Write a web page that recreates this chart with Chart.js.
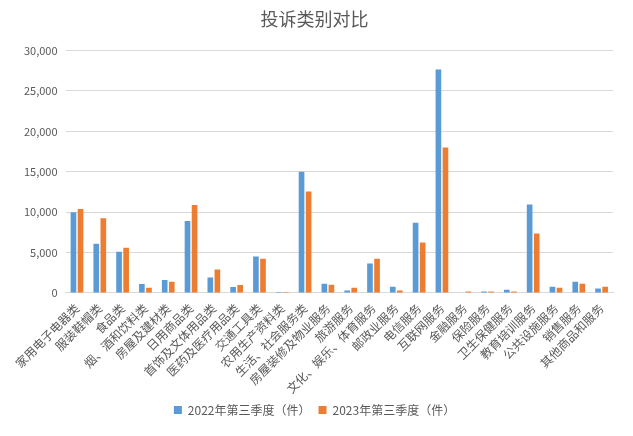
<!DOCTYPE html>
<html>
<head>
<meta charset="utf-8">
<script src="https://cdn.jsdelivr.net/npm/chart.js@4"></script>
<style>
  html, body { margin: 0; padding: 0; background: #fff; }
  #wrap { width: 633px; height: 436px; }
</style>
</head>
<body>
<div id="wrap"><canvas id="chart"></canvas></div>
<script>
// 投诉类别
const categories = [
  '家用电子电器类', '服装鞋帽类', '食品类', '烟、酒和饮料类', '房屋及建材类', '日用商品类',
  '首饰及文体用品类', '医药及医疗用品类', '交通工具类', '农用生产资料类', '生活、社会服务类',
  '房屋装修及物业服务', '旅游服务', '文化、娱乐、体育服务', '邮政业服务', '电信服务',
  '互联网服务', '金融服务', '保险服务', '卫生保健服务', '教育培训服务', '公共设施服务',
  '销售服务', '其他商品和服务'
];
const seriesNames = ['2022年第三季度（件）', '2023年第三季度（件）'];
const values2022 = [10000, 6100, 5100, 1100, 1600, 8900, 1900, 750, 4500, 130, 15000,
  1150, 290, 3650, 780, 8700, 27650, 60, 170, 410, 10950, 780, 1400, 540];
const values2023 = [10400, 9250, 5600, 650, 1400, 10900, 2900, 1000, 4250, 130, 12550,
  1030, 660, 4250, 290, 6250, 18000, 170, 170, 170, 7350, 660, 1150, 780];
const yTicks = [0, 5000, 10000, 15000, 20000, 25000, 30000];

const FONT = '"Noto Sans CJK SC", "Noto Sans", sans-serif';
const TEXT = '#595959';

new Chart(document.getElementById('chart').getContext('2d'), {
  type: 'bar',
  data: {
    labels: categories,
    datasets: [
      { label: seriesNames[0], data: values2022, backgroundColor: '#5B9BD5',
        barPercentage: 0.8, categoryPercentage: 0.62 },
      { label: seriesNames[1], data: values2023, backgroundColor: '#ED7D31',
        barPercentage: 0.8, categoryPercentage: 0.62 }
    ]
  },
  options: {
    responsive: true,
    maintainAspectRatio: false,
    animation: false,
    layout: { padding: { left: 16, right: 20, top: 4, bottom: 10 } },
    plugins: {
      title: {
        display: true,
        text: '投诉类别对比',
        color: TEXT,
        font: { family: FONT, size: 18, weight: 'normal' },
        padding: { top: 4, bottom: 21 }
      },
      legend: {
        position: 'bottom',
        labels: {
          color: TEXT,
          font: { family: FONT, size: 12 },
          boxWidth: 8, boxHeight: 8, padding: 8
        }
      },
      tooltip: { enabled: false }
    },
    scales: {
      x: {
        grid: { display: false },
        border: { color: '#d9d9d9' },
        ticks: {
          color: TEXT,
          font: { family: FONT, size: 12 },
          autoSkip: false,
          maxRotation: 45,
          minRotation: 45,
          padding: 0
        }
      },
      y: {
        min: 0,
        max: yTicks[yTicks.length - 1],
        afterBuildTicks: axis => { axis.ticks = yTicks.map(v => ({ value: v })); },
        grid: { color: '#d9d9d9', drawTicks: false },
        border: { display: false },
        ticks: {
          color: TEXT,
          font: { family: FONT, size: 11 },
          padding: 8,
          callback: v => v.toLocaleString('en-US')
        }
      }
    }
  }
});
</script>
</body>
</html>
